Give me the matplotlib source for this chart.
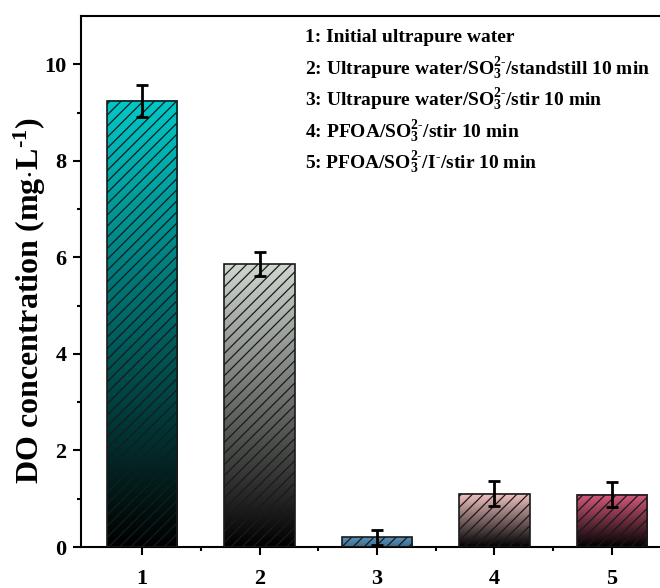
import numpy as np
import matplotlib.pyplot as plt
from matplotlib.colors import LinearSegmentedColormap

plt.rcParams['font.family'] = ['Liberation Serif', 'DejaVu Serif']
plt.rcParams['font.weight'] = 'bold'
plt.rcParams['mathtext.fontset'] = 'custom'
plt.rcParams['mathtext.rm'] = 'Liberation Serif:bold'
plt.rcParams['mathtext.bf'] = 'Liberation Serif:bold'
plt.rcParams['mathtext.it'] = 'Liberation Serif:bold'
plt.rcParams['mathtext.default'] = 'bf'
plt.rcParams['hatch.linewidth'] = 0.9

# DO measurements for the five conditions
samples = [1, 2, 3, 4, 5]
do_mean = [9.24, 5.86, 0.20, 1.10, 1.08]
do_err = [0.33, 0.25, 0.15, 0.26, 0.26]
top_colors = ['#00c8c8', '#d0d6d0', '#5a90b8', '#f4c4c4', '#d65a7c']
bottom_colors = ['#000000', '#000000', '#3c6e94', '#000000', '#000000']
legend_lines = [
    '1: Initial ultrapure water',
    r'2: Ultrapure water/SO$_3^{2\text{-}}$/standstill 10 min',
    r'3: Ultrapure water/SO$_3^{2\text{-}}$/stir 10 min',
    r'4: PFOA/SO$_3^{2\text{-}}$/stir 10 min',
    r'5: PFOA/SO$_3^{2\text{-}}$/I$^\text{-}$/stir 10 min',
]

fig = plt.figure(figsize=(6.6, 5.88), dpi=100)
ax = fig.add_axes([0.1227, 0.0697, 0.897, 0.903])

bars = ax.bar(samples, do_mean, width=0.6, color='none', edgecolor='#1a1a1a',
              linewidth=1.2, hatch='///', zorder=3)

# vertical gradient inside every bar, top colour fading down to the bottom colour
grad = np.linspace(0, 1, 256).reshape(-1, 1)
for bar, c_top, c_bot in zip(bars, top_colors, bottom_colors):
    x0, w, h = bar.get_x(), bar.get_width(), bar.get_height()
    cmap = LinearSegmentedColormap.from_list('fade', [c_bot, c_top])
    ax.imshow(grad, extent=[x0, x0 + w, 0, h], origin='lower', cmap=cmap,
              aspect='auto', zorder=2)

ax.errorbar(samples, do_mean, yerr=do_err, fmt='none', ecolor='black',
            elinewidth=2, capsize=4, capthick=2, zorder=4)

ax.set_xlim(0.48, 5.52)
ax.set_ylim(0, 11)
ax.set_xticks(samples)
ax.set_xticks([1.5, 2.5, 3.5, 4.5], minor=True)
ax.set_yticks([0, 2, 4, 6, 8, 10])
ax.set_yticks([1, 3, 5, 7, 9], minor=True)
ax.tick_params(which='major', direction='out', length=5.5, width=1.5, labelsize=16)
ax.tick_params(which='minor', direction='out', length=3, width=1.5)
ax.tick_params(axis='x', which='major', pad=10)
ax.tick_params(axis='y', which='major', pad=5)
for s in ax.spines.values():
    s.set_linewidth(1.5)

ax.set_ylabel(r'DO concentration (mg$\cdot$L$^{\text{-}1}$)', fontsize=23,
              fontweight='bold')
ax.yaxis.set_label_coords(-0.056, 0.465)

for i, line in enumerate(legend_lines):
    fig.text(305 / 660, 1 - (37 + 31.5 * i) / 588, line, fontsize=14,
             fontweight='bold', va='center', ha='left')

fig.savefig('out.png', dpi=100)
